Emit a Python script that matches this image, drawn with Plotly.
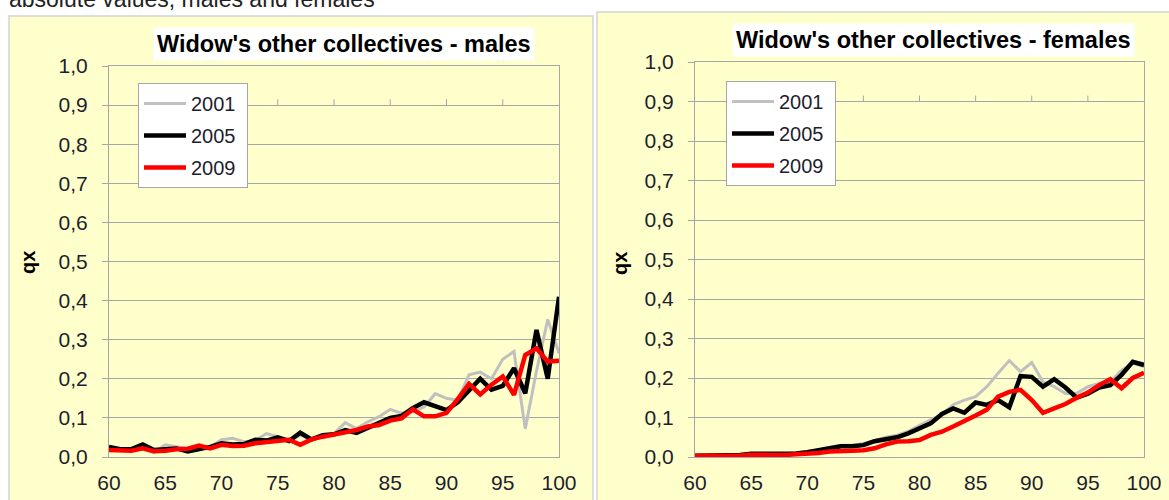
import plotly.graph_objs as go

W, H = 1169, 500

ages = list(range(60, 101))
years = ['2001', '2005', '2009']

males_2001 = [0.020, 0.018, 0.018, 0.020, 0.011, 0.031, 0.026, 0.022, 0.020, 0.026,
              0.044, 0.048, 0.039, 0.042, 0.060, 0.052, 0.041, 0.056, 0.045, 0.056,
              0.060, 0.088, 0.073, 0.090, 0.103, 0.122, 0.112, 0.115, 0.128, 0.162,
              0.150, 0.145, 0.210, 0.217, 0.200, 0.250, 0.270, 0.072, 0.220, 0.352,
              0.265]
males_2005 = [0.026, 0.020, 0.020, 0.032, 0.018, 0.020, 0.022, 0.014, 0.020, 0.026,
              0.035, 0.032, 0.033, 0.044, 0.042, 0.050, 0.041, 0.062, 0.045, 0.056,
              0.058, 0.069, 0.062, 0.075, 0.088, 0.100, 0.105, 0.125, 0.140, 0.130,
              0.120, 0.140, 0.172, 0.200, 0.172, 0.182, 0.227, 0.163, 0.325, 0.200,
              0.410]
males_2009 = [0.018, 0.016, 0.016, 0.022, 0.015, 0.016, 0.020, 0.021, 0.029, 0.022,
              0.031, 0.028, 0.029, 0.035, 0.038, 0.041, 0.044, 0.031, 0.045, 0.052,
              0.058, 0.065, 0.069, 0.078, 0.082, 0.093, 0.099, 0.122, 0.104, 0.104,
              0.113, 0.148, 0.187, 0.160, 0.185, 0.206, 0.159, 0.261, 0.278, 0.244,
              0.246]

females_2001 = [0.003, 0.003, 0.003, 0.003, 0.005, 0.008, 0.008, 0.008, 0.009, 0.010,
                0.014, 0.018, 0.024, 0.030, 0.030, 0.034, 0.042, 0.050, 0.055, 0.065,
                0.080, 0.094, 0.108, 0.132, 0.144, 0.153, 0.178, 0.212, 0.244, 0.216,
                0.239, 0.190, 0.178, 0.161, 0.161, 0.178, 0.186, 0.190, 0.220, 0.237,
                0.229]
females_2005 = [0.003, 0.003, 0.003, 0.003, 0.005, 0.008, 0.008, 0.007, 0.008, 0.009,
                0.012, 0.016, 0.022, 0.027, 0.027, 0.030, 0.040, 0.045, 0.050, 0.060,
                0.073, 0.085, 0.109, 0.123, 0.112, 0.138, 0.132, 0.144, 0.126, 0.205,
                0.203, 0.178, 0.197, 0.176, 0.150, 0.160, 0.176, 0.182, 0.208, 0.241,
                0.233]
females_2009 = [0.003, 0.003, 0.003, 0.003, 0.004, 0.006, 0.005, 0.006, 0.005, 0.007,
                0.008, 0.010, 0.014, 0.016, 0.016, 0.017, 0.022, 0.032, 0.039, 0.040,
                0.043, 0.056, 0.064, 0.077, 0.090, 0.105, 0.120, 0.153, 0.165, 0.170,
                0.144, 0.112, 0.123, 0.134, 0.150, 0.163, 0.182, 0.197, 0.174, 0.200,
                0.213]

x_ticks = [60, 65, 70, 75, 80, 85, 90, 95, 100]
y_ticks = [0.0, 0.1, 0.2, 0.3, 0.4, 0.5, 0.6, 0.7, 0.8, 0.9, 1.0]

titles = ["Widow's other collectives - males", "Widow's other collectives - females"]
header = 'absolute values, males and females'
y_title = 'qx'

colors = {'2001': '#C0C0C0', '2005': '#000000', '2009': '#FF0000'}
widths = {'2001': 3, '2005': 4.5, '2009': 4.5}

YELLOW = '#FFFFCC'
GRID = '#A6A6A6'
TXT = '#1E1E2E'
FONT = 'Liberation Sans, Arial, sans-serif'


def px(x):
    return x / W


def py(y):
    return 1 - y / H


def axis_x(domain, anchor):
    return dict(domain=domain, anchor=anchor, range=[60, 100], tickvals=x_ticks,
                showgrid=False, zeroline=False, showline=True, mirror=True, automargin=False,
                linecolor=GRID, linewidth=1, ticks='', ticklabelstandoff=7,
                tickfont=dict(size=21, color=TXT, family=FONT))


def axis_y(domain, anchor):
    return dict(domain=domain, anchor=anchor, range=[0, 1], tickvals=y_ticks,
                tickformat='.1f', showgrid=True, gridcolor=GRID, gridwidth=1, automargin=False,
                zeroline=False, showline=True, mirror=True, linecolor=GRID, linewidth=1,
                ticks='outside', ticklen=6, tickcolor=GRID, ticklabelstandoff=10,
                tickfont=dict(size=21, color=TXT, family=FONT))


traces = []
panels = [('x', 'y', 'legend', [males_2001, males_2005, males_2009]),
          ('x2', 'y2', 'legend2', [females_2001, females_2005, females_2009])]
for xa, ya, leg, series in panels:
    for year, vals in zip(years, series):
        traces.append(go.Scatter(x=ages, y=vals, mode='lines', name=year + ' ', xaxis=xa, yaxis=ya,
                                 legend=leg, legendgroup=leg + year,
                                 line=dict(color=colors[year], width=widths[year])))

legend_style = dict(bgcolor='#FFFFFF', bordercolor=GRID, borderwidth=1,
                    font=dict(size=20, color=TXT, family=FONT), tracegroupgap=3,
                    xanchor='left', yanchor='top', itemwidth=42)

layout = go.Layout(
    width=W, height=H, margin=dict(l=0, r=0, t=0, b=0, autoexpand=False),
    paper_bgcolor='#FFFFFF', plot_bgcolor=YELLOW, separators=',.',
    font=dict(family=FONT, color=TXT),
    xaxis=axis_x([px(109), px(559)], 'y'),
    yaxis=axis_y([py(457), py(66)], 'x'),
    xaxis2=axis_x([px(695), px(1144)], 'y2'),
    yaxis2=axis_y([py(457), py(62)], 'x2'),
    legend=dict(x=px(138), y=py(83), **legend_style),
    legend2=dict(x=px(726), y=py(81), **legend_style),
)

fig = go.Figure(data=traces, layout=layout)

# panel backgrounds
fig.add_shape(type='rect', xref='paper', yref='paper', x0=px(9), x1=px(593), y0=py(520), y1=py(16),
              fillcolor=YELLOW, line=dict(color='#D4D4D4', width=1.5), layer='below')
fig.add_shape(type='rect', xref='paper', yref='paper', x0=px(597), x1=px(1190), y0=py(520), y1=py(12),
              fillcolor=YELLOW, line=dict(color='#D4D4D4', width=1.5), layer='below')

# odd little tick marks sitting on the 0,9 gridline
for xa, ya in [('x', 'y'), ('x2', 'y2')]:
    for t in x_ticks[1:-1]:
        fig.add_shape(type='line', xref=xa, yref=ya, x0=t, x1=t, y0=0.9, y1=0.915,
                      line=dict(color=GRID, width=1))

for title, cx, cy in [(titles[0], 344, 44), (titles[1], 933, 40)]:
    fig.add_annotation(text='<b>' + title + '</b>', xref='paper', yref='paper', x=px(cx), y=py(cy),
                       xanchor='center', yanchor='middle', showarrow=False,
                       bgcolor='#FFFFFF', borderpad=3,
                       font=dict(size=23.5, color='#000000', family=FONT))

for cx in [28, 620]:
    fig.add_annotation(text='<b>' + y_title + '</b>', xref='paper', yref='paper', x=px(cx), y=py(263),
                       xanchor='center', yanchor='middle', textangle=-90, showarrow=False,
                       font=dict(size=20, color='#000000', family=FONT))

# header sentence, cut off by the top edge as in the original screenshot
fig.add_annotation(text=header, xref='paper', yref='paper', x=px(7), y=py(14),
                   xanchor='left', yanchor='bottom', showarrow=False,
                   font=dict(size=23, color='#222222', family=FONT))

fig.write_html('out.html', config={'displayModeBar': False},
               post_script="document.body.style.margin = '0px';")
